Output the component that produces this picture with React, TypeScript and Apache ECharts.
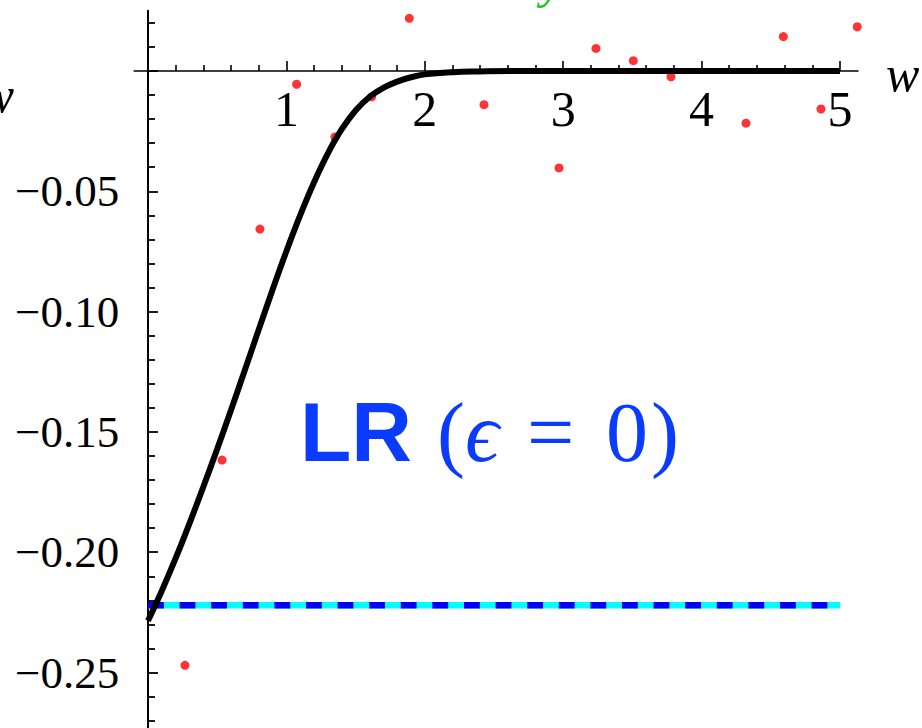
import React, { useEffect, useRef } from "react";
import * as echarts from "echarts";

// Axis ranges
const W_MIN = -0.1;
const W_MAX = 5.13;
const V_MIN = -0.3;
const V_MAX = 0.025;

// Tick positions and labels
const wMajorTicks = [1, 2, 3, 4, 5];
const wMinorTicks = [
  0.2, 0.4, 0.6, 0.8, 1.2, 1.4, 1.6, 1.8, 2.2, 2.4, 2.6, 2.8, 3.2, 3.4, 3.6,
  3.8, 4.2, 4.4, 4.6, 4.8,
];
const vMajorTicks = [-0.25, -0.2, -0.15, -0.1, -0.05, 0];
const vLabelTicks = [-0.25, -0.2, -0.15, -0.1, -0.05];
const vMinorTicks = [
  -0.29, -0.28, -0.27, -0.26, -0.24, -0.23, -0.22, -0.21, -0.19, -0.18, -0.17,
  -0.16, -0.14, -0.13, -0.12, -0.11, -0.09, -0.08, -0.07, -0.06, -0.04, -0.03,
  -0.02, -0.01, 0.01, 0.02,
];

// Smooth curve v(w)
const curveW = [
  0, 0.1, 0.2, 0.3, 0.4, 0.5, 0.6, 0.7, 0.8, 0.9, 1.0, 1.1, 1.2, 1.3, 1.4, 1.5,
  1.6, 1.7, 1.8, 1.9, 2.0, 2.2, 2.4, 2.7, 5.0,
];
const curveV = [
  -0.2285, -0.216, -0.2025, -0.188, -0.1728, -0.1571, -0.1409, -0.1243, -0.1075,
  -0.0909, -0.0749, -0.0599, -0.0462, -0.0342, -0.0242, -0.0164, -0.0108,
  -0.007, -0.0044, -0.0026, -0.0014, -0.0005, -0.0002, 0, 0,
];

// Sampled points
const dotW = [
  0.267, 0.535, 0.809, 1.074, 1.351, 1.616, 1.888, 2.428, 2.97, 3.237, 3.507,
  3.779, 4.321, 4.591, 4.863, 5.125,
];
const dotV = [
  -0.247, -0.1617, -0.0657, -0.0055, -0.0274, -0.0107, 0.0219, -0.014, -0.0403,
  0.0094, 0.0043, -0.0024, -0.0217, 0.0143, -0.0158, 0.0184,
];

// LR (epsilon = 0) level
const lrW = [0, 5];
const lrV = [-0.222, -0.222];

const SERIF = "'Liberation Serif', 'DejaVu Serif', serif";
const TEXT_BLUE = "#0b3cfd";

// Plot box (chart canvas is 800 tall, clipped to 728 by the wrapper)
const PLOT_LEFT = 134.16;
const PLOT_RIGHT = 64.06;
const PLOT_TOP = 10.85;
const PLOT_BOTTOM = 7.2;
const ZERO_ROW = 71; // pixel row of v = 0

const fmtV = (v: number) => (v < 0 ? "\u2212" : "") + Math.abs(v).toFixed(2);

export default function App() {
  const ref = useRef<HTMLDivElement>(null);

  useEffect(() => {
    if (!ref.current) return;
    const chart = echarts.init(ref.current, null, { renderer: "svg" });

    const curve = curveW.map((w, i) => [w, curveV[i]]);
    const dots = dotW.map((w, i) => [w, dotV[i]]);
    const lr = lrW.map((w, i) => [w, lrV[i]]);

    const wAxis = {
      type: "value" as const,
      min: W_MIN,
      max: W_MAX,
      position: "bottom" as const,
      splitLine: { show: false },
    };
    const vAxis = {
      type: "value" as const,
      min: V_MIN,
      max: V_MAX,
      position: "left" as const,
      gridIndex: 0,
      splitLine: { show: false },
    };

    chart.setOption({
      animation: false,
      backgroundColor: "#ffffff",
      grid: [
        {
          left: PLOT_LEFT,
          right: PLOT_RIGHT,
          top: PLOT_TOP,
          bottom: PLOT_BOTTOM,
          outerBoundsMode: "none",
          containLabel: false,
        },
        // strip whose lower edge sits on v = 0, carrying the w axis
        {
          left: PLOT_LEFT,
          right: PLOT_RIGHT,
          top: 0,
          height: ZERO_ROW,
          outerBoundsMode: "none",
          containLabel: false,
        },
      ],
      xAxis: [
        { ...wAxis, gridIndex: 0, show: false },
        {
          ...wAxis,
          gridIndex: 1,
          axisLine: { onZero: false, lineStyle: { color: "#000", width: 1.6 } },
          axisTick: {
            show: true,
            inside: true,
            length: 10,
            customValues: wMajorTicks,
            lineStyle: { color: "#000", width: 1.6 },
          },
          axisLabel: {
            show: true,
            customValues: wMajorTicks,
            color: "#000",
            fontFamily: SERIF,
            fontSize: 50,
            margin: 13,
            formatter: (v: number) => String(Math.round(v)),
          },
        },
        {
          ...wAxis,
          gridIndex: 1,
          axisLine: { show: false, onZero: false },
          axisTick: {
            show: true,
            inside: true,
            length: 6,
            customValues: wMinorTicks,
            lineStyle: { color: "#000", width: 1.6 },
          },
          axisLabel: { show: false },
        },
      ],
      yAxis: [
        {
          ...vAxis,
          axisLine: {
            onZero: true,
            onZeroAxisIndex: 0,
            lineStyle: { color: "#000", width: 2 },
          },
          axisTick: {
            show: true,
            inside: true,
            length: 10,
            customValues: vMajorTicks,
            lineStyle: { color: "#000", width: 1.8 },
          },
          axisLabel: {
            show: true,
            customValues: vLabelTicks,
            color: "#000",
            fontFamily: SERIF,
            fontSize: 45,
            margin: 15,
            formatter: fmtV,
          },
        },
        {
          ...vAxis,
          axisLine: { show: false, onZero: true, onZeroAxisIndex: 0 },
          axisTick: {
            show: true,
            inside: true,
            length: 7,
            customValues: vMinorTicks,
            lineStyle: { color: "#000", width: 1.8 },
          },
          axisLabel: { show: false },
        },
        { ...vAxis, gridIndex: 1, show: false },
      ],
      series: [
        {
          type: "line",
          data: lr,
          xAxisIndex: 0,
          yAxisIndex: 0,
          showSymbol: false,
          lineStyle: { color: "#00ffff", width: 6.5, cap: "butt" },
          silent: true,
        },
        {
          type: "line",
          data: lr,
          xAxisIndex: 0,
          yAxisIndex: 0,
          showSymbol: false,
          lineStyle: {
            color: "#0000f2",
            width: 6.5,
            type: [15.8, 15.8],
            cap: "butt",
          },
          silent: true,
        },
        {
          type: "line",
          data: curve,
          xAxisIndex: 0,
          yAxisIndex: 0,
          showSymbol: false,
          smooth: 0.4,
          lineStyle: { color: "#000", width: 6 },
          silent: true,
        },
        {
          type: "scatter",
          data: dots,
          xAxisIndex: 0,
          yAxisIndex: 0,
          symbolSize: 9,
          itemStyle: { color: "#ff0000" },
          silent: true,
        },
      ],
      graphic: [
        {
          type: "text",
          x: 14,
          y: 120,
          style: {
            text: "w",
            font: `italic 50px ${SERIF}`,
            fill: "#000",
            align: "right",
            verticalAlign: "bottom",
          },
        },
        {
          type: "text",
          x: 886,
          y: 99,
          style: {
            text: "w",
            font: `italic 50px ${SERIF}`,
            fill: "#000",
            align: "left",
            verticalAlign: "bottom",
          },
        },
        {
          type: "text",
          x: 541,
          y: 5,
          style: {
            text: "y",
            font: `italic 50px ${SERIF}`,
            fill: "#1ec81e",
            align: "left",
            verticalAlign: "bottom",
          },
        },
        {
          type: "text",
          x: 300,
          y: 432,
          style: {
            text: "LR",
            font: `bold 84px 'Liberation Sans', Arial, sans-serif`,
            fill: TEXT_BLUE,
            align: "left",
            verticalAlign: "middle",
          },
        },
        {
          type: "text",
          x: 437,
          y: 432,
          style: {
            text: "(",
            font: `84px ${SERIF}`,
            fill: TEXT_BLUE,
            align: "left",
            verticalAlign: "middle",
          },
        },
        {
          type: "text",
          x: 465,
          y: 432,
          style: {
            text: "\u03f5",
            font: `italic 84px ${SERIF}`,
            fill: TEXT_BLUE,
            align: "left",
            verticalAlign: "middle",
          },
        },
        {
          type: "text",
          x: 527,
          y: 432,
          style: {
            text: "=",
            font: `84px ${SERIF}`,
            fill: TEXT_BLUE,
            align: "left",
            verticalAlign: "middle",
          },
        },
        {
          type: "text",
          x: 606,
          y: 432,
          style: {
            text: "0",
            font: `84px ${SERIF}`,
            fill: TEXT_BLUE,
            align: "left",
            verticalAlign: "middle",
          },
        },
        {
          type: "text",
          x: 651,
          y: 432,
          style: {
            text: ")",
            font: `84px ${SERIF}`,
            fill: TEXT_BLUE,
            align: "left",
            verticalAlign: "middle",
          },
        },
      ],
    });

    return () => chart.dispose();
  }, []);

  return (
    <div
      style={{
        position: "fixed",
        left: 0,
        top: 0,
        width: 922,
        height: 728,
        overflow: "hidden",
        background: "#fff",
      }}
    >
      <div ref={ref} style={{ width: 922, height: 800 }} />
    </div>
  );
}
